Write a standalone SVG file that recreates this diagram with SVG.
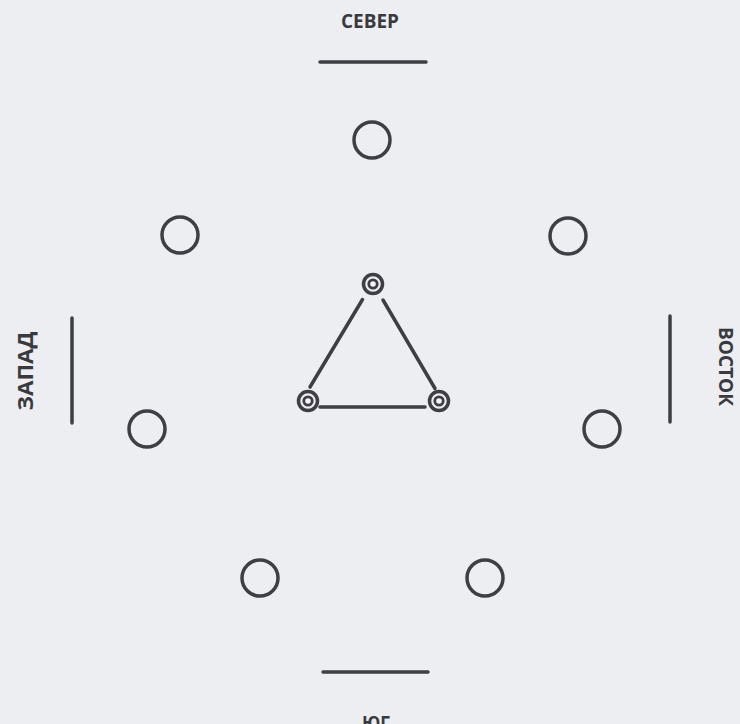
<svg xmlns="http://www.w3.org/2000/svg" width="740" height="724" viewBox="0 0 740 724">
<style>
.bg{fill:#eceef2}
.lbl{font-family:"Open Sans","Liberation Sans",sans-serif;font-weight:bold;font-size:19.5px;fill:#3a3a3e}
.bar{stroke:#3e3e44;stroke-width:3.5;stroke-linecap:round}
.ring{fill:none;stroke:#3e3e44;stroke-width:3.5}
.edge{stroke:#3e3e44;stroke-width:3.5;stroke-linecap:round}
.d-out{fill:none;stroke:#3e3e44;stroke-width:3.5}
.d-in{fill:#f4f5f7;stroke:#3e3e44;stroke-width:2.8}
</style>
<defs>
<g id="dbl">
<circle r="9.5" class="d-out"/>
<circle r="4.2" class="d-in"/>
</g>
</defs>
<rect class="bg" x="0" y="0" width="740" height="724"/>

<g id="north">
<text class="lbl" x="370" y="28" text-anchor="middle" textLength="58" lengthAdjust="spacingAndGlyphs">СЕВЕР</text>
<line class="bar" x1="320" y1="62" x2="426" y2="62"/>
</g>
<g id="west">
<text class="lbl" transform="translate(33,371) rotate(-90)" text-anchor="middle" style="font-size:21px" textLength="79" lengthAdjust="spacingAndGlyphs">ЗАПАД</text>
<line class="bar" x1="72" y1="318" x2="72" y2="423"/>
</g>
<g id="east">
<text class="lbl" transform="translate(719,366.5) rotate(90)" text-anchor="middle" style="font-size:20px" textLength="79" lengthAdjust="spacingAndGlyphs">ВОСТОК</text>
<line class="bar" x1="670" y1="316" x2="670" y2="422"/>
</g>
<g id="south">
<line class="bar" x1="323" y1="672" x2="428" y2="672"/>
<text class="lbl" x="376" y="730" text-anchor="middle" textLength="28" lengthAdjust="spacingAndGlyphs">ЮГ</text>
</g>

<g id="c-n"><circle class="ring" cx="372" cy="140" r="18"/></g>
<g id="c-nw"><circle class="ring" cx="180" cy="235" r="18"/></g>
<g id="c-ne"><circle class="ring" cx="568" cy="236" r="18"/></g>
<g id="c-w"><circle class="ring" cx="147" cy="429" r="18"/></g>
<g id="c-e"><circle class="ring" cx="602" cy="429" r="18"/></g>
<g id="c-sw"><circle class="ring" cx="260" cy="578" r="18"/></g>
<g id="c-se"><circle class="ring" cx="485" cy="578" r="18"/></g>

<g id="connectors">
<line class="edge" x1="362.5" y1="299.5" x2="310" y2="387"/>
<line class="edge" x1="383" y1="300" x2="435" y2="388.5"/>
<line class="edge" x1="320" y1="407" x2="425" y2="407"/>
</g>

<g id="t-top"><use href="#dbl" x="373" y="284"/></g>
<g id="t-left"><use href="#dbl" x="308" y="401"/></g>
<g id="t-right"><use href="#dbl" x="439" y="401"/></g>
</svg>
